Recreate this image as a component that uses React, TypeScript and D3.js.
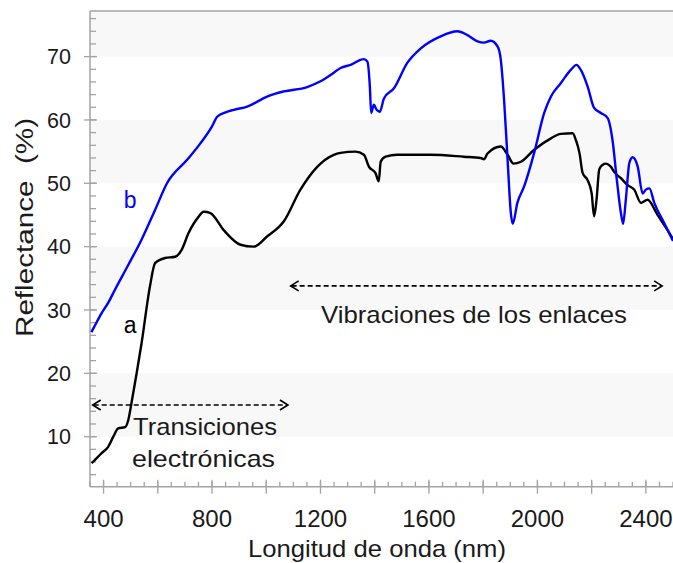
import React from "react";
import * as d3 from "d3";

// curve b (blue) – wavelength (nm) / reflectance (%)
const waveB = [355, 365, 393, 418, 442, 491, 540, 590, 634, 708, 757, 800, 819, 850, 880, 930, 1003, 1065, 1151, 1200, 1237, 1274, 1311, 1360, 1373, 1382, 1387, 1397, 1407, 1419, 1434, 1471, 1520, 1570, 1643, 1705, 1742, 1779, 1803, 1828, 1853, 1865, 1877, 1890, 1902, 1909, 1926, 1951, 1988, 2025, 2050, 2086, 2123, 2144, 2160, 2185, 2209, 2234, 2259, 2277, 2293, 2308, 2316, 2326, 2339, 2351, 2370, 2388, 2400, 2413, 2431, 2468, 2500];
const reflB = [26.5, 27.3, 29.5, 31.2, 33.2, 37.1, 41.1, 45.8, 50.0, 53.7, 56.3, 59.0, 60.5, 61.2, 61.6, 62.1, 63.7, 64.5, 65.2, 66.1, 67.1, 68.2, 68.7, 69.6, 69.2, 65.3, 61.1, 62.4, 61.6, 61.3, 63.4, 65.0, 69.0, 71.3, 73.2, 74.0, 73.4, 72.4, 72.2, 72.5, 71.6, 69.5, 63.2, 53.7, 45.3, 43.6, 46.9, 49.5, 54.8, 61.1, 63.7, 65.8, 67.9, 68.7, 67.9, 65.3, 61.9, 61.1, 60.3, 56.8, 50.5, 45.3, 43.6, 47.4, 53.2, 54.1, 52.6, 48.4, 49.0, 49.2, 46.9, 43.7, 40.9];

// curve a (black)
const waveA = [356, 393, 417, 436, 454, 479, 491, 503, 522, 540, 571, 590, 627, 664, 688, 713, 750, 769, 794, 843, 905, 954, 1003, 1065, 1126, 1188, 1249, 1274, 1329, 1360, 1379, 1403, 1415, 1422, 1440, 1483, 1606, 1729, 1791, 1803, 1816, 1865, 1890, 1912, 1939, 1988, 2050, 2086, 2130, 2142, 2155, 2167, 2185, 2200, 2209, 2218, 2228, 2240, 2253, 2271, 2283, 2308, 2333, 2357, 2382, 2406, 2443, 2480, 2500];
const reflA = [5.8, 7.4, 8.4, 10.0, 11.3, 11.5, 12.6, 15.3, 20.0, 24.7, 33.7, 37.4, 38.2, 38.4, 39.5, 42.1, 44.7, 45.5, 45.3, 42.6, 40.3, 40.0, 41.6, 44.0, 49.0, 52.6, 54.5, 54.8, 55.0, 54.5, 52.6, 51.6, 50.3, 53.4, 54.2, 54.5, 54.5, 54.2, 54.0, 53.8, 54.7, 55.8, 54.5, 53.1, 53.4, 55.3, 57.1, 57.8, 57.9, 56.8, 54.8, 51.6, 50.5, 48.4, 44.8, 47.4, 52.2, 52.9, 53.1, 52.6, 51.8, 50.8, 49.7, 49.0, 46.9, 47.4, 45.0, 42.6, 41.2];

const xLabels = [400, 800, 1200, 1600, 2000, 2400];
const yLabels = [10, 20, 30, 40, 50, 60, 70];
const shadedBands = [[10, 20], [30, 40], [50, 60], [70, 77.2]];

const W = 673, H = 563;
const FONT = "'Liberation Sans', Arial, sans-serif";
const AXIS = "#a3a3a3";
const INK = "#1a1a1a";

export default function App() {
  const x = d3.scaleLinear().domain([350, 2500]).range([90, 673]);
  const y = d3.scaleLinear().domain([2.1, 77.2]).range([486.7, 11]);

  const line = d3
    .line<number>()
    .x((d) => x(d))
    .curve(d3.curveMonotoneX);

  const pathB = line.y((_, i) => y(reflB[i]))(waveB) || "";
  const pathA = line.y((_, i) => y(reflA[i]))(waveA) || "";

  const xMinor = d3.range(350, 2501, 50);
  const xMid = d3.range(400, 2501, 200);
  const yMinor = d3.range(4, 77, 2);

  const x0 = x(350), y0 = y(2.1);

  const arrow = (a: number, b: number, v: number) => {
    const yy = y(v), xa = x(a), xb = x(b);
    return (
      <g stroke="#000" strokeWidth={1.6} fill="none">
        <line x1={xa + 1} x2={xb - 1} y1={yy} y2={yy} strokeDasharray="5,3" />
        <polyline points={`${xa + 8},${yy - 5} ${xa},${yy} ${xa + 8},${yy + 5}`} />
        <polyline points={`${xb - 8},${yy - 5} ${xb},${yy} ${xb - 8},${yy + 5}`} />
      </g>
    );
  };

  return (
    <svg width={W} height={H} style={{ position: "absolute", left: 0, top: 0, background: "#fff" }}>
      {/* background bands */}
      {shadedBands.map(([a, b]) => (
        <rect key={a} x={x0} width={W - x0} y={y(b)} height={y(a) - y(b)} fill="#f8f8f8" />
      ))}

      {/* frame */}
      <line x1={x0} x2={W} y1={y(77.2)} y2={y(77.2)} stroke={AXIS} strokeWidth={1.5} />
      <line x1={x0} x2={x0} y1={y(77.2)} y2={y0} stroke={AXIS} strokeWidth={1.5} />
      <line x1={x0} x2={W} y1={y0} y2={y0} stroke={AXIS} strokeWidth={1.5} />

      {/* y ticks */}
      {yMinor.map((v) => (
        <line key={"ym" + v} x1={x0} x2={x0 + 6} y1={y(v)} y2={y(v)} stroke={AXIS} strokeWidth={1.3} />
      ))}
      {yLabels.map((v) => (
        <g key={"yl" + v}>
          <line x1={x0 - 6} x2={x0 + 7} y1={y(v)} y2={y(v)} stroke={AXIS} strokeWidth={1.3} />
          <text x={71} y={y(v)} dy="0.36em" textAnchor="end" fontSize={21.5} fontFamily={FONT} fill={INK}>
            {v}
          </text>
        </g>
      ))}

      {/* x ticks */}
      {xMinor.map((v) => (
        <line key={"xm" + v} x1={x(v)} x2={x(v)} y1={y0} y2={y0 - 5} stroke={AXIS} strokeWidth={1.3} />
      ))}
      {xMid.map((v) => (
        <line key={"xd" + v} x1={x(v)} x2={x(v)} y1={y0 + 7} y2={y0 - 7} stroke={AXIS} strokeWidth={1.3} />
      ))}
      {xLabels.map((v) => (
        <text key={"xl" + v} x={x(v)} y={526.5} textAnchor="middle" fontSize={24} fontFamily={FONT} fill={INK}>
          {v}
        </text>
      ))}

      {/* axis titles */}
      <text x={248} y={557} fontSize={24} fontFamily={FONT} fill={INK} textLength={258} lengthAdjust="spacingAndGlyphs">
        Longitud de onda (nm)
      </text>
      <text
        transform={`translate(33,337) rotate(-90)`}
        fontSize={23.5}
        fontFamily={FONT}
        fill={INK}
        textLength={219}
        lengthAdjust="spacingAndGlyphs"
        style={{ whiteSpace: "pre" }}
      >
        {"Reflectance  (%)"}
      </text>

      {/* spectra */}
      <path d={pathA} fill="none" stroke="#000" strokeWidth={2.4} strokeLinejoin="round" />
      <path d={pathB} fill="none" stroke="#0000ff" strokeWidth={2.4} strokeLinejoin="round" />

      {/* annotations */}
      <text x={x(498)} y={y(47.4)} dy="0.36em" textAnchor="middle" fontSize={23} fontFamily={FONT} fill="#0000ff">
        b
      </text>
      <text x={x(498)} y={y(27.6)} dy="0.36em" textAnchor="middle" fontSize={23} fontFamily={FONT} fill="#000">
        a
      </text>

      {arrow(360, 1080, 15.0)}
      {arrow(1090, 2460, 33.8)}

      <text x={133} y={y(10.2)} fontSize={24} fontFamily={FONT} fill={INK} textLength={144} lengthAdjust="spacingAndGlyphs">
        Transiciones
      </text>
      <text x={132} y={y(5.2)} fontSize={24} fontFamily={FONT} fill={INK} textLength={143} lengthAdjust="spacingAndGlyphs">
        electrónicas
      </text>
      <text x={321} y={y(28)} fontSize={24} fontFamily={FONT} fill={INK} textLength={306} lengthAdjust="spacingAndGlyphs">
        Vibraciones de los enlaces
      </text>
    </svg>
  );
}
